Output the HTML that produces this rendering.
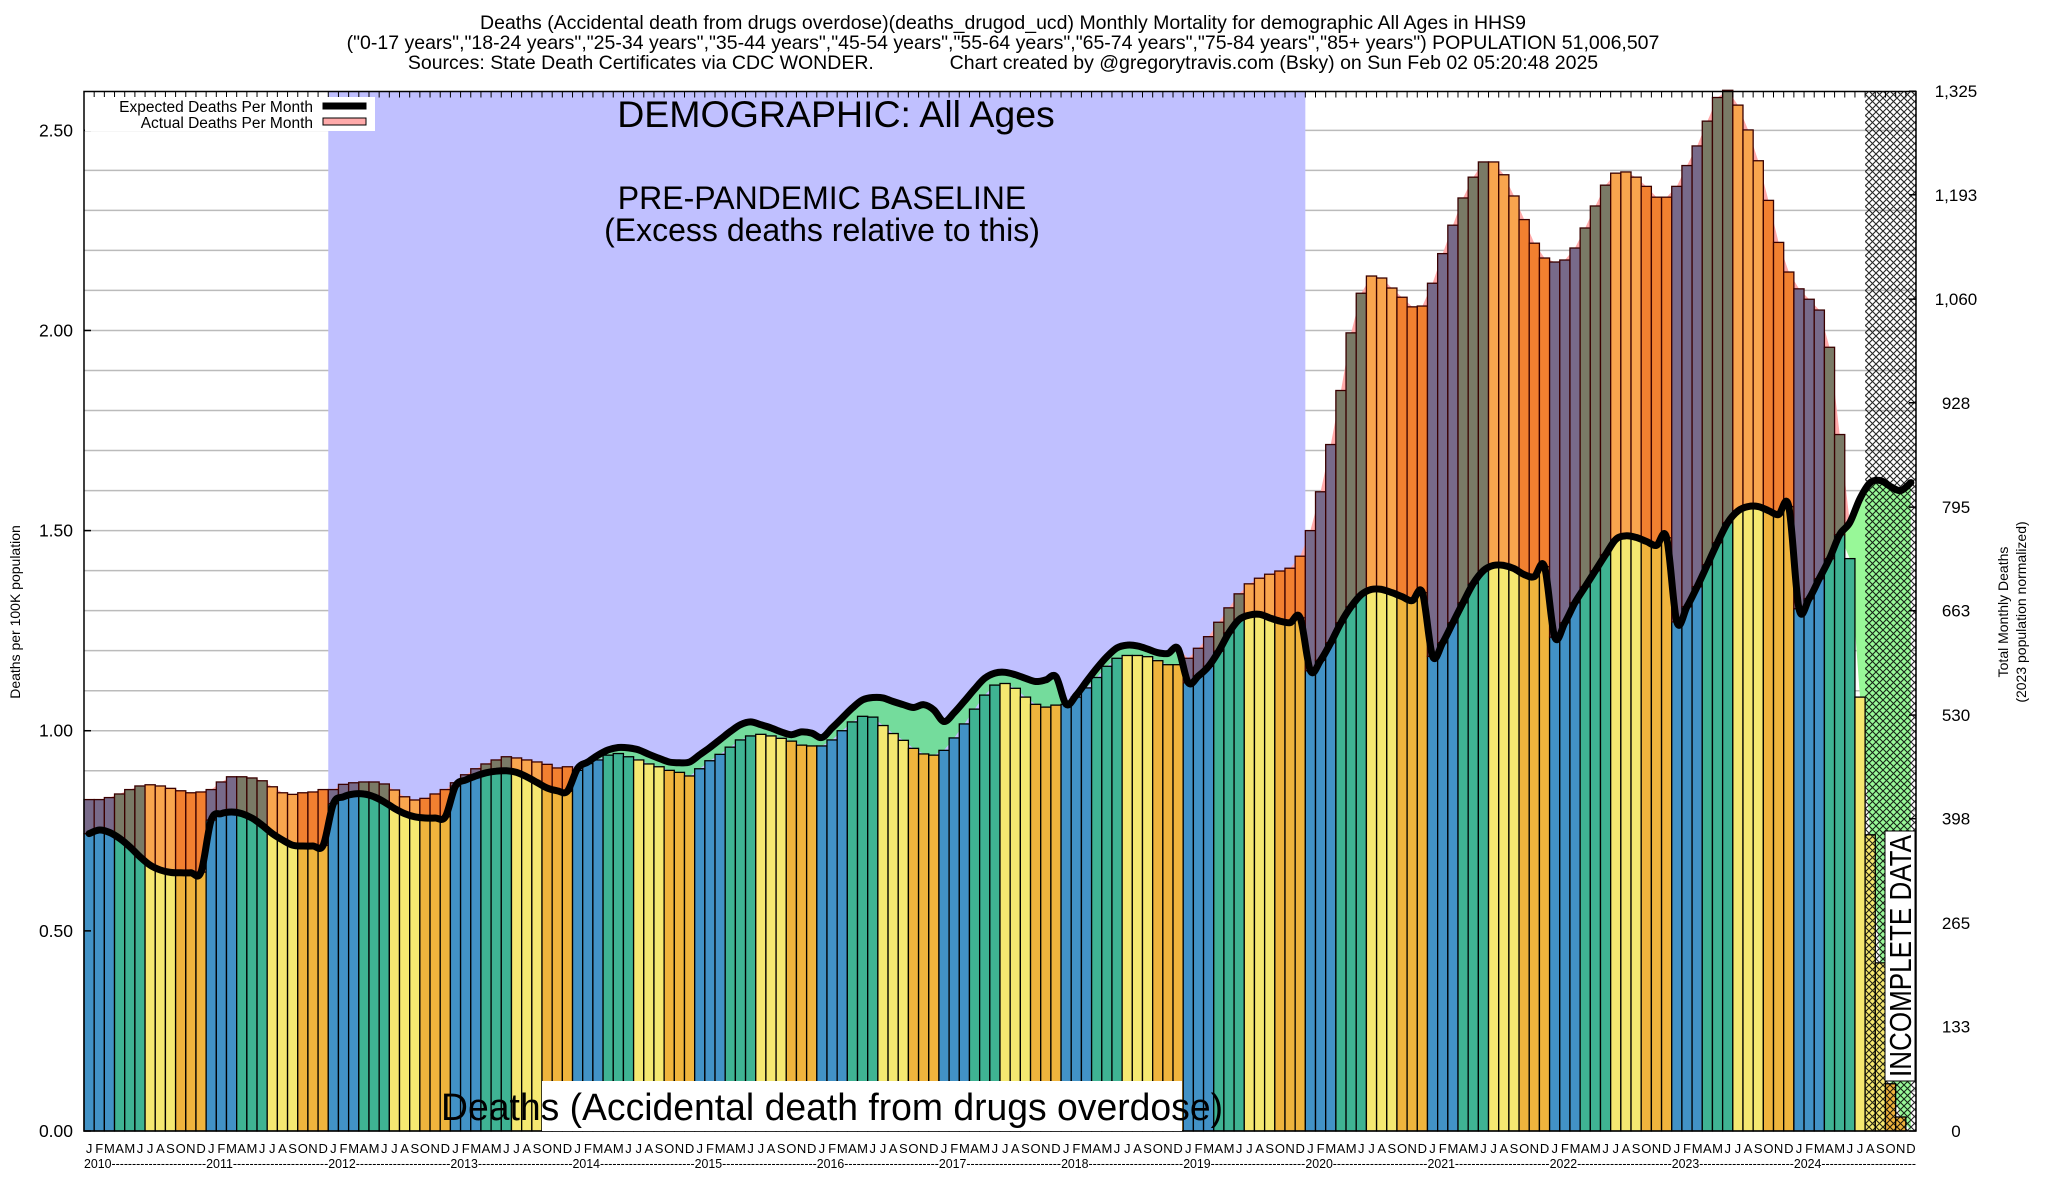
<!DOCTYPE html>
<html><head><meta charset="utf-8"><style>
html,body{margin:0;padding:0;background:#fff;}
svg{display:block;font-family:"Liberation Sans",sans-serif;}
</style></head><body>
<svg id="chart" width="2048" height="1200" viewBox="0 0 2048 1200" xmlns="http://www.w3.org/2000/svg">
<defs>
<pattern id="hatch" width="7" height="7" patternUnits="userSpaceOnUse">
<path d="M0,0 L7,7 M7,0 L0,7" stroke="#000" stroke-width="1.1"/>
</pattern>
</defs>
<g font-size="19.5" text-anchor="middle" fill="#000">
<text x="1003" y="29">Deaths (Accidental death from drugs overdose)(deaths_drugod_ucd) Monthly Mortality for demographic All Ages in HHS9</text>
<text x="1003" y="49">("0-17 years","18-24 years","25-34 years","35-44 years","45-54 years","55-64 years","65-74 years","75-84 years","85+ years") POPULATION 51,006,507</text>
<text x="1003" y="69" xml:space="preserve">Sources: State Death Certificates via CDC WONDER.              Chart created by @gregorytravis.com (Bsky) on Sun Feb 02 05:20:48 2025</text>
</g>
<g id="plot"></g>
<text font-size="14" text-anchor="middle" transform="translate(20,612) rotate(-90)">Deaths per 100K population</text>
<text font-size="14" text-anchor="middle" transform="translate(2008,612) rotate(-90)">Total Monthly Deaths</text>
<text font-size="14" text-anchor="middle" transform="translate(2026,612) rotate(-90)">(2023 population normalized)</text>
</svg>
<script>
const months = ["J","F","M","A","M","J","J","A","S","O","N","D"];
const years = [2010,2011,2012,2013,2014,2015,2016,2017,2018,2019,2020,2021,2022,2023,2024];
const actual = [
.828,.828,.833,.842,.853,.862,.865,.862,.856,.850,.845,.847,
.853,.872,.885,.885,.882,.875,.860,.845,.841,.845,.847,.853,
.853,.866,.870,.872,.872,.867,.852,.835,.827,.831,.842,.853,
.870,.890,.905,.917,.927,.935,.932,.927,.922,.916,.907,.910,
.901,.918,.927,.939,.943,.935,.927,.917,.910,.901,.896,.887,
.905,.925,.941,.959,.977,.987,.991,.987,.981,.974,.964,.962,
.962,.977,1.0,1.022,1.036,1.034,1.013,.993,.976,.956,.942,.939,
.951,.982,1.017,1.054,1.089,1.114,1.118,1.106,1.084,1.066,1.059,1.064,
1.066,1.084,1.107,1.133,1.161,1.181,1.188,1.188,1.185,1.175,1.165,1.165,
1.181,1.206,1.235,1.271,1.307,1.342,1.367,1.381,1.391,1.399,1.406,1.436,
1.50,1.597,1.715,1.85,1.994,2.093,2.136,2.131,2.106,2.083,2.059,2.061,
2.118,2.192,2.263,2.331,2.383,2.421,2.421,2.389,2.336,2.277,2.218,2.181,
2.171,2.176,2.206,2.256,2.311,2.363,2.393,2.396,2.383,2.36,2.333,2.333,
2.36,2.412,2.461,2.523,2.582,2.60,2.563,2.501,2.424,2.325,2.22,2.146,
2.104,2.078,2.051,1.958,1.74,1.43,1.084,.74,.42,.118,.035,0];
const expected = [
.743,.752,.746,.731,.710,.685,.664,.652,.646,.645,.645,.647,
.777,.793,.797,.793,.782,.764,.743,.727,.714,.712,.712,.714,
.818,.835,.842,.842,.835,.822,.806,.793,.785,.782,.782,.785,
.862,.877,.887,.895,.899,.900,.896,.885,.871,.857,.850,.849,
.906,.922,.939,.952,.958,.957,.952,.941,.931,.922,.920,.922,
.940,.958,.978,.998,1.015,1.022,1.015,1.007,.997,.990,.997,.994,
.983,1.007,1.032,1.057,1.077,1.083,1.082,1.073,1.065,1.058,1.065,1.052,
1.023,1.045,1.074,1.104,1.131,1.144,1.146,1.140,1.131,1.123,1.127,1.135,
1.066,1.089,1.123,1.156,1.185,1.207,1.214,1.212,1.204,1.195,1.193,1.205,
1.120,1.137,1.161,1.199,1.245,1.278,1.289,1.291,1.282,1.274,1.270,1.282,
1.15,1.176,1.22,1.27,1.31,1.34,1.353,1.353,1.345,1.335,1.325,1.345,
1.186,1.22,1.27,1.32,1.368,1.40,1.413,1.413,1.405,1.39,1.385,1.41,
1.234,1.27,1.32,1.36,1.40,1.44,1.478,1.487,1.483,1.473,1.463,1.482,
1.272,1.31,1.36,1.415,1.47,1.52,1.549,1.56,1.56,1.55,1.54,1.56,
1.305,1.33,1.38,1.43,1.49,1.52,1.58,1.62,1.625,1.61,1.60,1.62];
const leftTicks = ["0.00","0.50","1.00","1.50","2.00","2.50"];
const rightTicks = ["0","133","265","398","530","663","795","928","1,060","1,193","1,325"];
const deathsPerUnit = 510.06;
const baselineStart = 24, baselineEnd = 120;
const incompleteStart = 175;

const NS = "http://www.w3.org/2000/svg";
const L = 84, R = 1916, T = 91.5, B = 1131, YMAX = 2.597;
const N = actual.length;
const BW = (R - L) / N;
function xs(i){ return L + i * BW; }
function xc(i){ return L + (i + 0.5) * BW; }
function ys(v){ return B - (v / YMAX) * (B - T); }
const plot = document.getElementById("plot");
function mk(tag, attrs, parent){
  const e = document.createElementNS(NS, tag);
  for (const k in attrs) e.setAttribute(k, attrs[k]);
  (parent || plot).appendChild(e);
  return e;
}
const seasonCol = ["#4292c6","#3fb393","#f5e871","#efb43d"];
const excessCol = ["#786a8a","#7a7a66","#f9a54e","#f28030"];

for (let v = 0.1; v < YMAX; v += 0.1) {
  const g = mk("line", {x1:L, x2:R, y1:ys(v), y2:ys(v), stroke:"#bbb", "stroke-width":1.5});
  
  
}
const base = mk("rect", {x:xs(baselineStart), y:T, width:xs(baselineEnd)-xs(baselineStart), height:B-T, fill:"#c0c0ff"});



function areaPath(topF, botF, from, to){
  let d = "";
  for (let i = from; i <= to; i++) d += (i===from?"M":"L") + xc(i).toFixed(1) + "," + ys(topF(i)).toFixed(1);
  for (let i = to; i >= from; i--) d += "L" + xc(i).toFixed(1) + "," + ys(botF(i)).toFixed(1);
  return d + "Z";
}
const pink = mk("path", {d: areaPath(i=>Math.max(actual[i],expected[i]), i=>expected[i], 0, N-1), fill:"#ffaaaa"});


const green1 = mk("path", {d: areaPath(i=>expected[i], i=>Math.min(actual[i],expected[i]), 0, 172), fill:"#74dc9c"});


const green2 = mk("path", {d: areaPath(i=>expected[i], i=>Math.min(actual[i],expected[i]), 172, N-1), fill:"#98f898"});



for (let i = 0; i < N; i++) {
  const q = Math.floor((i % 12) / 3);
  const a = actual[i], e = expected[i];
  if (a <= 0) continue;
  const low = Math.min(a, e);
  const b = mk("rect", {x:xs(i), y:ys(low), width:BW, height:ys(0)-ys(low), fill:seasonCol[q], stroke:"#000", "stroke-width":1.3});
  
  
  if (a > e) {
    const x = mk("rect", {x:xs(i), y:ys(a), width:BW, height:ys(e)-ys(a), fill:excessCol[q], stroke:"#3a0000", "stroke-width":1.3});
    
    
  }
}
const hatch = mk("rect", {x:xs(incompleteStart), y:T, width:R-xs(incompleteStart), height:B-T, fill:"url(#hatch)", opacity:0.85});



let pts = expected.map((v,i)=>[xc(i), ys(v)]);
let d = "M" + pts[0][0].toFixed(1) + "," + pts[0][1].toFixed(1);
for (let i = 0; i < pts.length - 1; i++) {
  const p0 = pts[Math.max(0,i-1)], p1 = pts[i], p2 = pts[i+1], p3 = pts[Math.min(pts.length-1,i+2)];
  const c1 = [p1[0]+(p2[0]-p0[0])/6, p1[1]+(p2[1]-p0[1])/6];
  const c2 = [p2[0]-(p3[0]-p1[0])/6, p2[1]-(p3[1]-p1[1])/6];
  d += "C" + c1[0].toFixed(1)+","+c1[1].toFixed(1)+" "+c2[0].toFixed(1)+","+c2[1].toFixed(1)+" "+p2[0].toFixed(1)+","+p2[1].toFixed(1);
}
const line = mk("path", {d:d, fill:"none", stroke:"#000", "stroke-width":7, "stroke-linejoin":"round", "stroke-linecap":"round"});



const frame = mk("rect", {x:L, y:T, width:R-L, height:B-T, fill:"none", stroke:"#000", "stroke-width":1.5});


for (let i = 0; i <= N; i++) {
  const t = mk("line", {x1:xs(i), x2:xs(i), y1:T, y2:T+6, stroke:"#000", "stroke-width":1});
  
  
}
leftTicks.forEach(s => {
  const v = parseFloat(s);
  const t = mk("text", {x:73, y:ys(v)+6, "font-size":17.5, "text-anchor":"end"});
  t.textContent = s;
  
  
  const tk = mk("line", {x1:L, x2:L+7, y1:ys(v), y2:ys(v), stroke:"#000", "stroke-width":1.5});
  
  
});
rightTicks.forEach(s => {
  const v = parseFloat(s.replace(",","")) / deathsPerUnit;
  const t = mk("text", {x:1956, y:ys(v)+6, "font-size":17, "text-anchor":"middle"});
  t.textContent = s;
  
  
  const tk = mk("line", {x1:R-7, x2:R, y1:ys(v), y2:ys(v), stroke:"#000", "stroke-width":1.5});
  
  
});
for (let i = 0; i < N; i++) {
  const t = mk("text", {x:xc(i), y:1153, "font-size":13, "text-anchor":"middle"});
  t.textContent = months[i % 12];
  
  
}
years.forEach((yr, k) => {
  const t = mk("text", {x:xs(k*12), y:1168, "font-size":13, textLength:(12*BW).toFixed(1), lengthAdjust:"spacingAndGlyphs"});
  t.textContent = yr + "-----------------------";
  
  
});

const a1 = mk("text", {x:836, y:127, "font-size":37.5, "text-anchor":"middle"});
a1.textContent = "DEMOGRAPHIC: All Ages";


const a2 = mk("text", {x:822, y:209, "font-size":32, "text-anchor":"middle"});
a2.textContent = "PRE-PANDEMIC BASELINE";


const a3 = mk("text", {x:822, y:241, "font-size":32, "text-anchor":"middle"});
a3.textContent = "(Excess deaths relative to this)";



const cbox = mk("rect", {x:542, y:1081, width:640, height:B-1081, fill:"#fff"});


const cl = mk("text", {x:441, y:1120, "font-size":38, textLength:782, lengthAdjust:"spacingAndGlyphs"});
cl.textContent = "Deaths (Accidental death from drugs overdose)";



const ibox = mk("rect", {x:1885, y:831, width:30, height:250, fill:"#fff", stroke:"#000", "stroke-width":1});


const it = mk("text", {x:0, y:0, "font-size":31, "text-anchor":"middle", transform:"translate(1911,956) rotate(-90)", textLength:242, lengthAdjust:"spacingAndGlyphs"});
it.textContent = "INCOMPLETE DATA";



const lg = mk("g", {});


mk("rect", {x:85, y:97, width:290, height:34, fill:"#fff"}, lg);
const l1 = mk("text", {x:313, y:112, "font-size":15.5, "text-anchor":"end"}, lg);
l1.textContent = "Expected Deaths Per Month";


const s1 = mk("rect", {x:323, y:103, width:43, height:6, fill:"#000", stroke:"#000"}, lg);


const l2 = mk("text", {x:313, y:128, "font-size":15.5, "text-anchor":"end"}, lg);
l2.textContent = "Actual Deaths Per Month";


const s2 = mk("rect", {x:323, y:118, width:43, height:7, fill:"#ffaaaa", stroke:"#000"}, lg);


</script>
</body></html>
